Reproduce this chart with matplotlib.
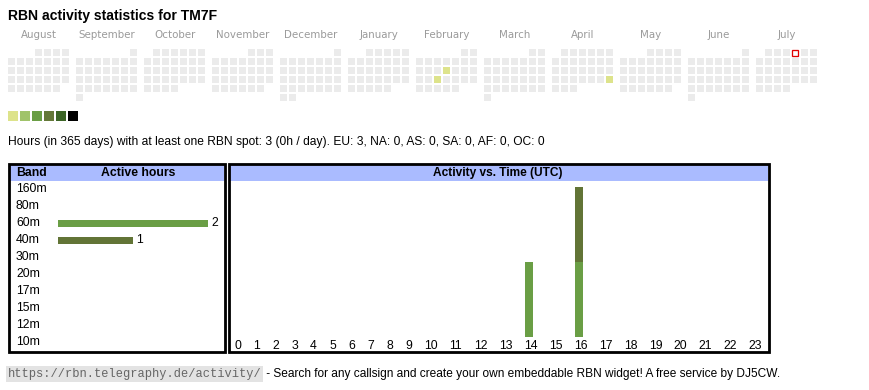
import matplotlib
matplotlib.use("Agg")
import matplotlib.pyplot as plt
from matplotlib.patches import Rectangle
import datetime as dt
import calendar

# ---------------- data ----------------
callsign = "TM7F"
month_names = ["August", "September", "October", "November", "December", "January",
               "February", "March", "April", "May", "June", "July"]
first_month = (2024, 8)
active_days = ["2025-02-13", "2025-02-19", "2025-04-27"]
active_day_hours = [1, 1, 1]
today = "2025-07-04"
level_colors = ["#dde38b", "#a0c36a", "#6a9e45", "#647838", "#3c6526", "#000000"]
empty_color = "#ebebeb"

bands = ["160m", "80m", "60m", "40m", "30m", "20m", "17m", "15m", "12m", "10m"]
band_hours = [0, 0, 2, 1, 0, 0, 0, 0, 0, 0]
band_colors = {"60m": "#6a9e45", "40m": "#627436"}

hour_labels = [str(h) for h in range(24)]
hours_60m = [0, 0, 0, 0, 0, 0, 0, 0, 0, 0, 0, 0, 0, 0, 1, 0, 1, 0, 0, 0, 0, 0, 0, 0]
hours_40m = [0, 0, 0, 0, 0, 0, 0, 0, 0, 0, 0, 0, 0, 0, 0, 0, 1, 0, 0, 0, 0, 0, 0, 0]

continents = ["EU", "NA", "AS", "SA", "AF", "OC"]
continent_hours = [3, 0, 0, 0, 0, 0]
total_hours = 3
days_span = 365

url = "https://rbn.telegraphy.de/activity/"
footer = " - Search for any callsign and create your own embeddable RBN widget! A free service by DJ5CW."

# ---------------- layout ----------------
W, H = 870, 390
fig = plt.figure(figsize=(W / 100, H / 100), dpi=100)
bg = fig.add_axes([0, 0, 1, 1])
bg.set_xlim(0, W)
bg.set_ylim(H, 0)
bg.axis("off")

SANS = ["Liberation Sans", "DejaVu Sans"]
PX = 72 / 100  # points per pixel


def px_axes(x, y, w, h):
    ax = fig.add_axes([x / W, 1 - (y + h) / H, w / W, h / H])
    ax.axis("off")
    return ax


# title
bg.text(8, 16, f"RBN activity statistics for {callsign}", fontsize=14.0 * PX,
        fontweight="bold", family=SANS, va="center", ha="left", color="#000")

# calendar
act = {dt.date.fromisoformat(d): h for d, h in zip(active_days, active_day_hours)}
tday = dt.date.fromisoformat(today)
y0 = 49
pitch = 9
cell = 7
block = 68
yr, mo = first_month
for k, name in enumerate(month_names):
    x0 = 8 + block * k
    bg.text(x0 + (7 * pitch - 2) / 2 + 0.5, 35, name, fontsize=10.3 * PX, color="#9a9a9a",
            family=["DejaVu Sans"], ha="center", va="center")
    fw, nd = calendar.monthrange(yr, mo)
    for d in range(1, nd + 1):
        date = dt.date(yr, mo, d)
        col = date.weekday()
        row = (d - 1 + fw) // 7
        x = x0 + pitch * col
        y = y0 + pitch * row
        if date == tday:
            bg.add_patch(Rectangle((x + 0.5, y + 0.5), cell - 1, cell - 1, facecolor="white",
                                   edgecolor="#e00000", lw=1.3 * PX))
        else:
            c = level_colors[min(act[date], len(level_colors)) - 1] if date in act else empty_color
            bg.add_patch(Rectangle((x, y), cell, cell, facecolor=c, edgecolor="none"))
    mo += 1
    if mo > 12:
        mo = 1
        yr += 1

# colour legend
for i, c in enumerate(level_colors):
    bg.add_patch(Rectangle((8 + 12 * i, 111), 10, 10, facecolor=c, edgecolor="none"))

# summary line
cont_txt = ", ".join(f"{c}: {v}" for c, v in zip(continents, continent_hours))
bg.text(8, 142, f"Hours (in {days_span} days) with at least one RBN spot: {total_hours} "
        f"({total_hours // days_span}h / day). {cont_txt}",
        fontsize=12.0 * PX, family=SANS, va="center", ha="left", color="#000")

# ---------------- band table ----------------
hdr_color = "#aabbff"
bw = 2.8 * PX
FS = 12.2 * PX
bg.add_patch(Rectangle((10, 165), 214.5, 16, facecolor=hdr_color, edgecolor="none"))
bg.add_patch(Rectangle((9, 164), 216.5, 188, facecolor="none", edgecolor="black", lw=bw))
bg.text(16, 173, "Band", fontsize=FS, fontweight="bold", family=SANS, va="center")
bg.text(138, 173, "Active hours", fontsize=FS, fontweight="bold", family=SANS,
        va="center", ha="center")
for i, b in enumerate(bands):
    bg.text(16, 189 + 17 * i, b, fontsize=FS, family=SANS, va="center", ha="left")

axb = px_axes(58, 180.5, 150, 170)
axb.set_xlim(0, max(band_hours))
axb.set_ylim(len(bands) - 0.5, -0.5)
for i, (b, v) in enumerate(zip(bands, band_hours)):
    if v > 0:
        axb.barh(i, v, height=7 / 17, color=band_colors[b], left=0)
        axb.annotate(str(v), (v, i), xytext=(3.5 * PX, 0), textcoords="offset points",
                     va="center", ha="left", fontsize=FS, family=SANS,
                     annotation_clip=False)

# ---------------- hour chart ----------------
bg.add_patch(Rectangle((230, 165), 538, 16, facecolor=hdr_color, edgecolor="none"))
bg.add_patch(Rectangle((229, 164), 540, 188, facecolor="none", edgecolor="black", lw=bw))
bg.text(498, 173, "Activity vs. Time (UTC)", fontsize=FS * 0.97, fontweight="bold",
        family=SANS, va="center", ha="center")

col_w = [6.5 * 2 + 6 * len(s) for s in hour_labels]
col_left = [228.0]
for w_ in col_w[:-1]:
    col_left.append(col_left[-1] + w_)
for s, l, w_ in zip(hour_labels, col_left, col_w):
    bg.text(l + w_ / 2, 346, s, fontsize=FS, family=SANS, va="center", ha="center")

axh = px_axes(228, 187, sum(col_w), 150)
axh.set_xlim(0, sum(col_w))
tot = [a + b for a, b in zip(hours_60m, hours_40m)]
axh.set_ylim(0, max(tot))
xs = [l - 228 + 6.5 for l in col_left]
axh.bar(xs, hours_60m, width=8, align="edge", color=band_colors["60m"])
axh.bar(xs, hours_40m, width=8, align="edge", bottom=hours_60m, color=band_colors["40m"])

# ---------------- footer ----------------
t = bg.text(8, 374, url, fontsize=12 * PX, family=["Liberation Mono", "DejaVu Sans Mono"],
            color="#666666", va="center", ha="left",
            bbox=dict(facecolor="#e3e3e3", edgecolor="none", pad=1.2))
fig.canvas.draw()
ext = t.get_window_extent()
x_end = ext.x1 / fig.dpi * 100
bg.text(x_end + 1, 374, footer, fontsize=11.9 * PX, family=SANS, color="#000",
        va="center", ha="left")

fig.savefig("out.png", dpi=100)
